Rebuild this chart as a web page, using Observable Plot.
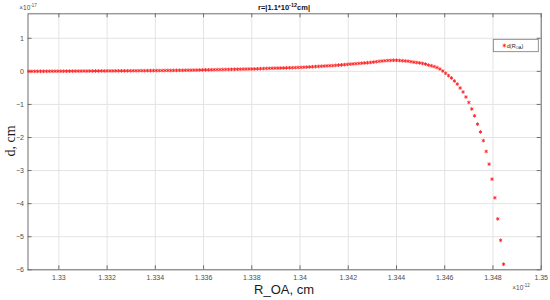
<!DOCTYPE html>
<html>
<head>
<meta charset="utf-8">
<script src="https://cdn.jsdelivr.net/npm/d3@7"></script>
<script src="https://cdn.jsdelivr.net/npm/@observablehq/plot@0.6"></script>
<style>
  html, body { margin: 0; padding: 0; background: #fff; }
  #chart { width: 550px; height: 300px; }
</style>
</head>
<body>
<div id="chart"></div>
<script>
// x in units of 1e-12 cm, y in units of 1e-17 cm
const rOA = [
1.32876,1.32888,1.32900,1.32912,1.32924,1.32936,1.32948,1.32960,1.32972,1.32984,
1.32996,1.33008,1.33020,1.33032,1.33044,1.33056,1.33068,1.33080,1.33092,1.33104,
1.33116,1.33128,1.33140,1.33152,1.33164,1.33176,1.33188,1.33200,1.33212,1.33224,
1.33236,1.33248,1.33260,1.33272,1.33284,1.33296,1.33308,1.33320,1.33332,1.33344,
1.33356,1.33368,1.33380,1.33392,1.33404,1.33416,1.33428,1.33440,1.33452,1.33464,
1.33476,1.33488,1.33500,1.33512,1.33524,1.33536,1.33548,1.33560,1.33572,1.33584,
1.33596,1.33608,1.33620,1.33632,1.33644,1.33656,1.33668,1.33680,1.33692,1.33704,
1.33716,1.33728,1.33740,1.33752,1.33764,1.33776,1.33788,1.33800,1.33812,1.33824,
1.33836,1.33848,1.33860,1.33872,1.33884,1.33896,1.33908,1.33920,1.33932,1.33944,
1.33956,1.33968,1.33980,1.33992,1.34004,1.34016,1.34028,1.34040,1.34052,1.34064,
1.34076,1.34088,1.34100,1.34112,1.34124,1.34136,1.34148,1.34160,1.34172,1.34184,
1.34196,1.34208,1.34220,1.34232,1.34244,1.34256,1.34268,1.34280,1.34292,1.34304,
1.34316,1.34328,1.34340,1.34352,1.34364,1.34376,1.34388,1.34400,1.34412,1.34424,
1.34436,1.34448,1.34460,1.34472,1.34484,1.34496,1.34508,1.34520,1.34532,1.34544,
1.34556,1.34568,1.34580,1.34592,1.34604,1.34616,1.34628,1.34640,1.34652,1.34664,
1.34676,1.34688,1.34700,1.34712,1.34724,1.34736,1.34748,1.34760,1.34772,1.34784,
1.34796,1.34808,1.34820,1.34832,1.34844
];
const dVal = [
0.000,0.000,0.001,0.001,0.002,0.002,0.003,0.003,0.004,0.004,
0.005,0.005,0.005,0.006,0.006,0.007,0.007,0.008,0.008,0.009,
0.009,0.010,0.010,0.011,0.011,0.012,0.012,0.013,0.013,0.014,
0.014,0.015,0.015,0.016,0.016,0.017,0.018,0.018,0.019,0.020,
0.020,0.021,0.022,0.023,0.023,0.024,0.025,0.026,0.027,0.027,
0.028,0.029,0.030,0.031,0.033,0.034,0.036,0.038,0.039,0.041,
0.043,0.045,0.046,0.048,0.050,0.052,0.053,0.055,0.057,0.058,
0.060,0.062,0.064,0.065,0.067,0.069,0.071,0.072,0.074,0.077,
0.080,0.084,0.088,0.091,0.094,0.097,0.098,0.100,0.103,0.105,
0.108,0.110,0.113,0.117,0.120,0.124,0.129,0.134,0.139,0.144,
0.149,0.154,0.160,0.165,0.170,0.174,0.180,0.189,0.196,0.203,
0.210,0.218,0.225,0.232,0.240,0.247,0.254,0.261,0.268,0.279,
0.291,0.302,0.313,0.320,0.327,0.331,0.333,0.334,0.327,0.321,
0.315,0.307,0.293,0.277,0.266,0.255,0.240,0.220,0.190,0.170,
0.145,0.115,0.070,0.010,-0.060,-0.130,-0.200,-0.290,-0.384,-0.503,
-0.624,-0.775,-0.940,-1.137,-1.345,-1.596,-1.832,-2.095,-2.422,-2.806,
-3.259,-3.822,-4.460,-5.108,-5.831
];
const xTicks = [1.33,1.332,1.334,1.336,1.338,1.34,1.342,1.344,1.346,1.348,1.35];
const yTicks = [-6,-5,-4,-3,-2,-1,0,1];
const titleText = "r=|1.1*10";
const seriesName = "d(R";

const data = rOA.map((x, i) => ({x, y: dVal[i]}));

const W = 550, H = 300;
const mL = 27.5, mR = 9.3, mT = 13.3, mB = 30.7;
const fw = W - mL - mR, fh = H - mT - mB;
const fmt = d => String(+d.toFixed(3));
const axisColor = "#6e6e6e";
const labelColor = "#4d4d4d";

const chart = Plot.plot({
  width: W, height: H,
  marginLeft: mL, marginRight: mR, marginTop: mT, marginBottom: mB,
  style: {background: "#fff", fontFamily: "Liberation Sans, Arial, sans-serif"},
  x: {domain: [1.32872, 1.35], ticks: xTicks, tickFormat: fmt},
  y: {domain: [-6, 1.74], ticks: yTicks},
  marks: [
    Plot.gridX(xTicks, {stroke: "#e3e3e3", strokeOpacity: 1}),
    Plot.gridY(yTicks, {stroke: "#e3e3e3", strokeOpacity: 1}),
    // inward ticks on all four sides
    Plot.tickX(xTicks, {x: d => d, insetTop: fh - 4, stroke: axisColor}),
    Plot.tickX(xTicks, {x: d => d, insetBottom: fh - 4, stroke: axisColor}),
    Plot.tickY(yTicks, {y: d => d, insetRight: fw - 4, stroke: axisColor}),
    Plot.tickY(yTicks, {y: d => d, insetLeft: fw - 4, stroke: axisColor}),
    Plot.axisX(xTicks, {tickSize: 0, tickPadding: 5, fontSize: 7, fill: labelColor, label: null, tickFormat: fmt}),
    Plot.axisY(yTicks, {tickSize: 0, tickPadding: 4, fontSize: 7, fill: labelColor, label: null}),
    Plot.frame({stroke: axisColor, strokeWidth: 1}),
    Plot.dot(data, {x: "x", y: "y", symbol: "asterisk", r: 1.7, stroke: "#ff2020", strokeWidth: 0.9})
  ]
});
document.getElementById("chart").appendChild(chart);

const svg = d3.select(chart);
// title
const t = svg.append("text").attr("x", 284).attr("y", 10).attr("text-anchor", "middle")
  .attr("font-family", "Liberation Sans, Arial, sans-serif").attr("font-size", 7.5).attr("font-weight", "bold").attr("fill", "#111");
t.append("tspan").text(titleText);
t.append("tspan").attr("font-size", 5.5).attr("dy", -3).text("-12");
t.append("tspan").attr("dy", 3).text("cm|");

// exponent labels
const e1 = svg.append("text").attr("x", 28).attr("y", 10).attr("font-family", "Liberation Sans, Arial, sans-serif").attr("font-size", 6.5).attr("fill", labelColor);
e1.append("tspan").text("\u00d710");
e1.append("tspan").attr("font-size", 4.5).attr("dy", -3).text("-17");
const e2 = svg.append("text").attr("x", 521).attr("y", 290).attr("font-family", "Liberation Sans, Arial, sans-serif").attr("font-size", 6.5).attr("fill", labelColor);
e2.append("tspan").text("\u00d710");
e2.append("tspan").attr("font-size", 4.5).attr("dy", -3).text("-12");

// axis labels
svg.append("text").attr("x", 284).attr("y", 294).attr("text-anchor", "middle")
  .attr("font-family", "Liberation Sans, Arial, sans-serif").attr("font-size", 13).attr("fill", "#1a1a1a").text("R_OA, cm");
svg.append("text").attr("transform", "translate(15,141) rotate(-90)").attr("text-anchor", "middle")
  .attr("font-family", "Liberation Serif, Times New Roman, serif").attr("font-size", 14).attr("fill", "#1a1a1a").text("d, cm");

// legend
const lg = svg.append("g");
lg.append("rect").attr("x", 493.3).attr("y", 39.3).attr("width", 45).attr("height", 12.4)
  .attr("fill", "#fff").attr("stroke", "#777").attr("stroke-width", 0.8);
lg.append("path").attr("d", d3.symbol(d3.symbolAsterisk, 9)()).attr("transform", "translate(504.3,45.5)")
  .attr("stroke", "#ff2020").attr("stroke-width", 0.9).attr("fill", "none");
const lt = lg.append("text").attr("x", 515).attr("y", 47.5).attr("font-family", "Liberation Sans, Arial, sans-serif").attr("font-size", 5.5).attr("fill", "#222");
lt.append("tspan").text(seriesName);
lt.append("tspan").attr("font-size", 4).attr("dy", 1.5).text("OA");
lt.append("tspan").attr("dy", -1.5).text(")");
</script>
</body>
</html>
